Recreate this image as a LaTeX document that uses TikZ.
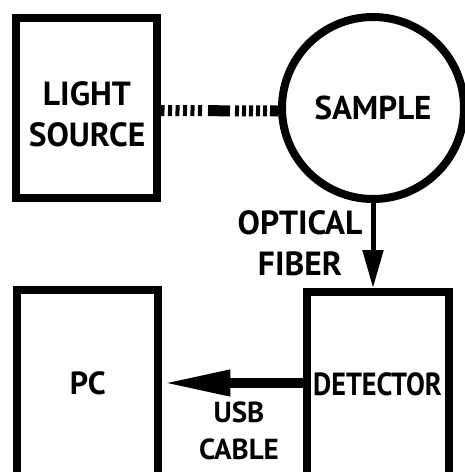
\documentclass[tikz,border=0pt]{standalone}
\usepackage{fontspec}
\setmainfont{PT Sans}
\usetikzlibrary{arrows.meta}

\begin{document}
\begin{tikzpicture}[x=1pt, y=-1pt, >=Stealth,
    font=\bfseries,
    box/.style={draw, line width=8pt, minimum width=141pt, inner sep=0pt,
        font=\fontsize{32}{41}\selectfont\bfseries},
    lbl/.style={font=\fontsize{33.5}{41}\selectfont\bfseries, align=center, inner sep=0pt},
    sml/.style={font=\fontsize{29}{37}\selectfont\bfseries, align=center, inner sep=0pt}]

\useasboundingbox (0,0) rectangle (465,472);
\clip (0,0) rectangle (465,472);

% ════════════════════════════════════════════════
%  TOP ROW — source and sample
% ════════════════════════════════════════════════

% Light source
\node[box, minimum height=180pt] (src) at (86,107.5) {};
\node[lbl] (srct) at (87,114.5) {LIGHT\\SOURCE};

% Sample holder
\node[circle, draw, line width=8pt, minimum size=182pt, inner sep=0pt,
    font=\fontsize{33}{41}\selectfont\bfseries] (smp) at (373,108) {SAMPLE};

% Light path (broken beam)
\draw[line width=11pt, dash pattern={on 4pt off 3.5pt on 4pt off 3.5pt
    on 4pt off 3.5pt on 4pt off 3.5pt on 4pt off 3.5pt on 4pt off 6pt
    on 22pt off 5pt on 4pt off 3pt on 4pt off 3pt on 4pt off 3pt
    on 4pt off 3pt on 4pt off 3pt on 20pt off 0pt}]
    ([yshift=-3pt]src.east) -- ([yshift=-3pt]smp.west);

% ════════════════════════════════════════════════
%  BOTTOM ROW — detector and PC
% ════════════════════════════════════════════════

% PC
\node[box, minimum height=186pt] (pc) at (87.75,383) {PC};

% Detector
\node[box, minimum height=185pt, minimum width=142pt] (det) at (377.5,384.5)
    {\scalebox{0.88}[1]{DETECTOR}};

% Optical fiber
\draw[line width=5pt, -{Triangle[length=38pt, width=20pt]}]
    (smp.south) -- (smp.south |- det.north);
\node[lbl] (fibt) at (300,243) {OPTICAL\\FIBER};

% USB cable
\draw[line width=10pt, -{Triangle[length=68pt, width=24pt]}]
    (det.west |- pc.east) -- (pc.east);
\node[sml] (usbt) at (239,431) {USB\\CABLE};

\end{tikzpicture}
\end{document}
